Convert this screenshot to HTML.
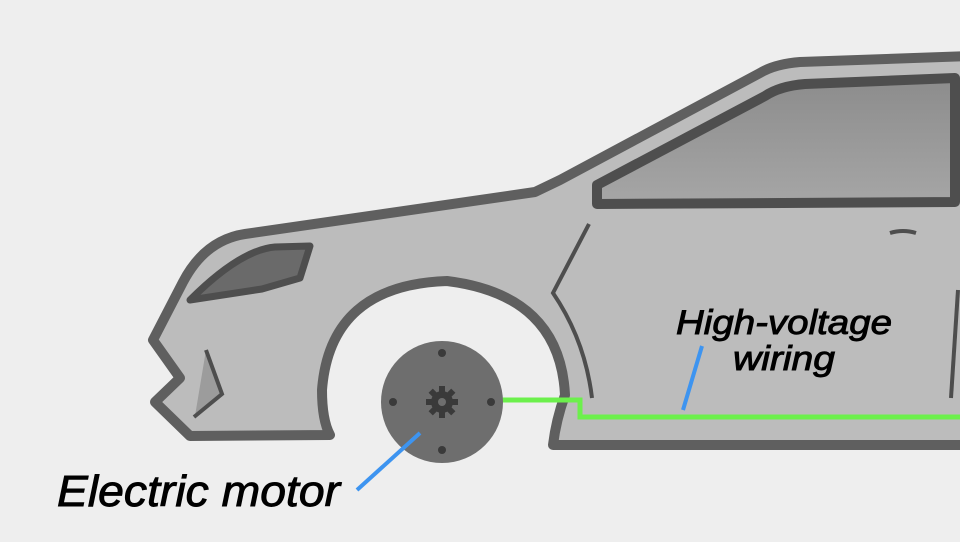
<!DOCTYPE html>
<html><head><meta charset="utf-8"><style>html,body{margin:0;padding:0;background:#eeeeee;overflow:hidden}</style></head>
<body>
<svg width="960" height="537" viewBox="0 0 960 537" xmlns="http://www.w3.org/2000/svg">
<defs>
<linearGradient id="win" x1="0" y1="0" x2="0" y2="1"><stop offset="0" stop-color="#8c8c8c"/><stop offset="1" stop-color="#a6a6a6"/></linearGradient>
</defs>
<rect width="960" height="537" fill="#eeeeee"/>
<path d="M190,436 L155,402 L180,378 L153,340 L183,282 Q205,240 245,234 L535,192 L560,180 L760,73 Q775,64 800,62 L970,56 L970,445 L553,445 Q556,420 565,395 Q560,295 447,281 Q330,285 322,390 Q322,420 330,435 Z" fill="#bcbcbc" stroke="#5f5f5f" stroke-width="10" stroke-linejoin="round"/>
<path d="M597,185 L765,96 Q780,86 805,84 L955,78 L955,202 L597,204 Z" fill="url(#win)" stroke="#4e4e4e" stroke-width="10" stroke-linejoin="round"/>
<path d="M190,300 Q240,250 275,247 L310,246 L300,278 L262,289 Z" fill="#6a6a6a" stroke="#4e4e4e" stroke-width="7" stroke-linejoin="round"/>
<path d="M206,350 L222,394 L195,416 Z" fill="#9c9c9c"/>
<path d="M206,350 L222,394 L194,417" fill="none" stroke="#4e4e4e" stroke-width="4"/>
<path d="M589,224 L553,293 Q585,340 592,398" fill="none" stroke="#4e4e4e" stroke-width="4"/>
<path d="M958,290 L951,398" fill="none" stroke="#4e4e4e" stroke-width="4"/>
<path d="M890,233 Q903,229 916,233" fill="none" stroke="#4e4e4e" stroke-width="4"/>
<path d="M500,400 L580,400 L580,417 L965,417" fill="none" stroke="#6cf04c" stroke-width="5"/>
<circle cx="442" cy="402" r="61" fill="#6e6e6e"/>
<g fill="#3a3a3a">
<circle cx="442" cy="353" r="4"/><circle cx="442" cy="450" r="4"/><circle cx="393" cy="402" r="4"/><circle cx="491" cy="402" r="4"/>
<g transform="translate(442,402)">
<circle r="11"/>
<rect x="-3" y="-16" width="6" height="32"/>
<rect x="-3" y="-16" width="6" height="32" transform="rotate(45)"/>
<rect x="-3" y="-16" width="6" height="32" transform="rotate(90)"/>
<rect x="-3" y="-16" width="6" height="32" transform="rotate(135)"/>
</g>
</g>
<circle cx="442" cy="402" r="4" fill="#6e6e6e"/>
<line x1="357" y1="490" x2="420" y2="433" stroke="#3d94f0" stroke-width="4"/>
<line x1="683" y1="410" x2="702" y2="346" stroke="#3d94f0" stroke-width="4"/>
<g font-family="Liberation Sans, sans-serif" font-style="italic" fill="#000" stroke="#000" stroke-width="0.9">
<text x="57" y="506" font-size="44" textLength="283" lengthAdjust="spacingAndGlyphs">Electric motor</text>
<text x="676" y="334" font-size="34" textLength="216" lengthAdjust="spacingAndGlyphs">High-voltage</text>
<text x="733" y="370" font-size="34" textLength="102" lengthAdjust="spacingAndGlyphs">wiring</text>
</g>
</svg>
</body></html>
